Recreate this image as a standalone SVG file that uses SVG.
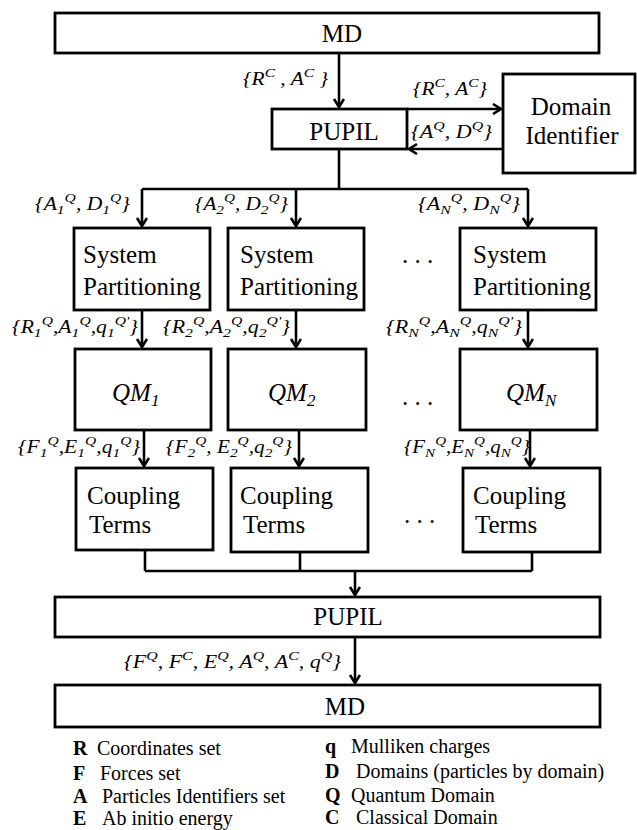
<svg xmlns="http://www.w3.org/2000/svg" width="637" height="830" viewBox="0 0 637 830">
<style>
.b{fill:#fff;stroke:#000;stroke-width:2.8}
.c{fill:none;stroke:#000;stroke-width:2.6}
.n{font-family:"Liberation Serif","Times New Roman",serif;font-size:25px;fill:#000}
.l{font-family:"Liberation Serif","Times New Roman",serif;font-size:18px;font-style:italic;fill:#000}
.s{font-size:13px}
.g{font-family:"Liberation Serif","Times New Roman",serif;font-size:20px;fill:#000}
.k{font-weight:bold}
</style>
<defs>
<marker id="ah" markerUnits="userSpaceOnUse" markerWidth="14" markerHeight="14" refX="10" refY="6" orient="auto">
<path d="M2,1 L10,6 L2,11" fill="none" stroke="#000" stroke-width="2.6"/>
</marker>
</defs>
<rect width="637" height="830" fill="#fff"/>

<g id="connectors">
<path class="c" d="M339,53 V107" marker-end="url(#ah)"/>
<path class="c" d="M407,109 H501" marker-end="url(#ah)"/>
<path class="c" d="M503,149 H409" marker-end="url(#ah)"/>
<path class="c" d="M339,149 V189 M142,189 H528"/>
<path class="c" d="M142,189 V226" marker-end="url(#ah)"/>
<path class="c" d="M296,189 V226" marker-end="url(#ah)"/>
<path class="c" d="M528,189 V226" marker-end="url(#ah)"/>
<path class="c" d="M142,310 V347" marker-end="url(#ah)"/>
<path class="c" d="M296,310 V347" marker-end="url(#ah)"/>
<path class="c" d="M528,310 V347" marker-end="url(#ah)"/>
<path class="c" d="M144,430 V466" marker-end="url(#ah)"/>
<path class="c" d="M299,430 V466" marker-end="url(#ah)"/>
<path class="c" d="M530,430 V466" marker-end="url(#ah)"/>
<path class="c" d="M145,550 V571 M300,552 V571 M532,552 V571 M145,571 H532"/>
<path class="c" d="M355,571 V595" marker-end="url(#ah)"/>
<path class="c" d="M355,637 V683" marker-end="url(#ah)"/>
</g>

<g id="labels">
<text class="l" x="243" y="85" textLength="85" lengthAdjust="spacingAndGlyphs">{R<tspan class="s" dy="-8">C</tspan><tspan dy="8"> , A</tspan><tspan class="s" dy="-8">C</tspan><tspan dy="8"> }</tspan></text>
<text class="l" x="413" y="95" textLength="74" lengthAdjust="spacingAndGlyphs">{R<tspan class="s" dy="-8">C</tspan><tspan dy="8">, A</tspan><tspan class="s" dy="-8">C</tspan><tspan dy="8">}</tspan></text>
<text class="l" x="411" y="138" textLength="81" lengthAdjust="spacingAndGlyphs">{A<tspan class="s" dy="-8">Q</tspan><tspan dy="8">, D</tspan><tspan class="s" dy="-8">Q</tspan><tspan dy="8">}</tspan></text>

<text class="l" x="35" y="210" textLength="95" lengthAdjust="spacingAndGlyphs">{A<tspan class="s" dy="4">1</tspan><tspan class="s" dy="-12">Q</tspan><tspan dy="8">, D</tspan><tspan class="s" dy="4">1</tspan><tspan class="s" dy="-12">Q</tspan><tspan dy="8">}</tspan></text>
<text class="l" x="195" y="210" textLength="93" lengthAdjust="spacingAndGlyphs">{A<tspan class="s" dy="4">2</tspan><tspan class="s" dy="-12">Q</tspan><tspan dy="8">, D</tspan><tspan class="s" dy="4">2</tspan><tspan class="s" dy="-12">Q</tspan><tspan dy="8">}</tspan></text>
<text class="l" x="418" y="210" textLength="102" lengthAdjust="spacingAndGlyphs">{A<tspan class="s" dy="4">N</tspan><tspan class="s" dy="-12">Q</tspan><tspan dy="8">, D</tspan><tspan class="s" dy="4">N</tspan><tspan class="s" dy="-12">Q</tspan><tspan dy="8">}</tspan></text>

<text class="l" x="12" y="333" textLength="126" lengthAdjust="spacingAndGlyphs">{R<tspan class="s" dy="4">1</tspan><tspan class="s" dy="-12">Q</tspan><tspan dy="8">,A</tspan><tspan class="s" dy="4">1</tspan><tspan class="s" dy="-12">Q</tspan><tspan dy="8">,q</tspan><tspan class="s" dy="4">1</tspan><tspan class="s" dy="-12">Q'</tspan><tspan dy="8">}</tspan></text>
<text class="l" x="163" y="333" textLength="127" lengthAdjust="spacingAndGlyphs">{R<tspan class="s" dy="4">2</tspan><tspan class="s" dy="-12">Q</tspan><tspan dy="8">,A</tspan><tspan class="s" dy="4">2</tspan><tspan class="s" dy="-12">Q</tspan><tspan dy="8">,q</tspan><tspan class="s" dy="4">2</tspan><tspan class="s" dy="-12">Q'</tspan><tspan dy="8">}</tspan></text>
<text class="l" x="386" y="333" textLength="136" lengthAdjust="spacingAndGlyphs">{R<tspan class="s" dy="4">N</tspan><tspan class="s" dy="-12">Q</tspan><tspan dy="8">,A</tspan><tspan class="s" dy="4">N</tspan><tspan class="s" dy="-12">Q</tspan><tspan dy="8">,q</tspan><tspan class="s" dy="4">N</tspan><tspan class="s" dy="-12">Q'</tspan><tspan dy="8">}</tspan></text>

<text class="l" x="18" y="453" textLength="122" lengthAdjust="spacingAndGlyphs">{F<tspan class="s" dy="4">1</tspan><tspan class="s" dy="-12">Q</tspan><tspan dy="8">,E</tspan><tspan class="s" dy="4">1</tspan><tspan class="s" dy="-12">Q</tspan><tspan dy="8">,q</tspan><tspan class="s" dy="4">1</tspan><tspan class="s" dy="-12">Q</tspan><tspan dy="8">}</tspan></text>
<text class="l" x="166" y="453" textLength="126" lengthAdjust="spacingAndGlyphs">{F<tspan class="s" dy="4">2</tspan><tspan class="s" dy="-12">Q</tspan><tspan dy="8">, E</tspan><tspan class="s" dy="4">2</tspan><tspan class="s" dy="-12">Q</tspan><tspan dy="8">,q</tspan><tspan class="s" dy="4">2</tspan><tspan class="s" dy="-12">Q</tspan><tspan dy="8">}</tspan></text>
<text class="l" x="404" y="453" textLength="126" lengthAdjust="spacingAndGlyphs">{F<tspan class="s" dy="4">N</tspan><tspan class="s" dy="-12">Q</tspan><tspan dy="8">,E</tspan><tspan class="s" dy="4">N</tspan><tspan class="s" dy="-12">Q</tspan><tspan dy="8">,q</tspan><tspan class="s" dy="4">N</tspan><tspan class="s" dy="-12">Q</tspan><tspan dy="8">}</tspan></text>

<text class="l" x="124" y="668" textLength="217" lengthAdjust="spacingAndGlyphs">{F<tspan class="s" dy="-8">Q</tspan><tspan dy="8">, F</tspan><tspan class="s" dy="-8">C</tspan><tspan dy="8">, E</tspan><tspan class="s" dy="-8">Q</tspan><tspan dy="8">, A</tspan><tspan class="s" dy="-8">Q</tspan><tspan dy="8">, A</tspan><tspan class="s" dy="-8">C</tspan><tspan dy="8">, q</tspan><tspan class="s" dy="-8">Q</tspan><tspan dy="8">}</tspan></text>
</g>

<g id="md-top">
<rect class="b" x="55" y="13" width="544" height="40"/>
<text class="n" x="342" y="42" text-anchor="middle">MD</text>
</g>
<g id="pupil-top">
<rect class="b" x="272" y="109" width="135" height="40"/>
<text class="n" x="344" y="140" text-anchor="middle">PUPIL</text>
</g>
<g id="domain-identifier">
<rect class="b" x="503" y="74" width="132" height="99"/>
<text class="n" x="571" y="115" text-anchor="middle">Domain</text>
<text class="n" x="572" y="144" text-anchor="middle">Identifier</text>
</g>

<g id="sp1">
<rect class="b" x="74" y="228" width="136" height="82"/>
<text class="n" x="83" y="263">System</text>
<text class="n" x="83" y="295">Partitioning</text>
</g>
<g id="sp2">
<rect class="b" x="228" y="228" width="136" height="82"/>
<text class="n" x="240" y="263">System</text>
<text class="n" x="240" y="295">Partitioning</text>
</g>
<g id="spN">
<rect class="b" x="460" y="228" width="136" height="82"/>
<text class="n" x="473" y="263">System</text>
<text class="n" x="473" y="295">Partitioning</text>
</g>

<g id="qm1">
<rect class="b" x="75" y="349" width="136" height="81"/>
<text class="n" x="112" y="401" font-style="italic">QM<tspan font-size="17" dy="5">1</tspan></text>
</g>
<g id="qm2">
<rect class="b" x="228" y="349" width="138" height="81"/>
<text class="n" x="268" y="401" font-style="italic">QM<tspan font-size="17" dy="5">2</tspan></text>
</g>
<g id="qmN">
<rect class="b" x="460" y="349" width="137" height="81"/>
<text class="n" x="506" y="401" font-style="italic">QM<tspan font-size="17" dy="5">N</tspan></text>
</g>

<g id="ct1">
<rect class="b" x="76" y="468" width="137" height="82"/>
<text class="n" x="87" y="504">Coupling</text>
<text class="n" x="89" y="533">Terms</text>
</g>
<g id="ct2">
<rect class="b" x="231" y="468" width="137" height="84"/>
<text class="n" x="240" y="504">Coupling</text>
<text class="n" x="243" y="533">Terms</text>
</g>
<g id="ctN">
<rect class="b" x="463" y="468" width="137" height="84"/>
<text class="n" x="473" y="504">Coupling</text>
<text class="n" x="475" y="533">Terms</text>
</g>

<g id="dots">
<text class="n" x="402" y="263">. . .</text>
<text class="n" x="402" y="405">. . .</text>
<text class="n" x="404" y="523">. . .</text>
</g>

<g id="pupil-bottom">
<rect class="b" x="55" y="597" width="545" height="40"/>
<text class="n" x="348" y="625" text-anchor="middle">PUPIL</text>
</g>
<g id="md-bottom">
<rect class="b" x="55" y="685" width="545" height="42"/>
<text class="n" x="345" y="715" text-anchor="middle">MD</text>
</g>

<g id="legend">
<text class="g" x="73" y="755"><tspan class="k">R</tspan><tspan x="97">Coordinates set</tspan></text>
<text class="g" x="73" y="780"><tspan class="k">F</tspan><tspan x="100">Forces set</tspan></text>
<text class="g" x="73" y="803"><tspan class="k">A</tspan><tspan x="102">Particles Identifiers set</tspan></text>
<text class="g" x="73" y="825"><tspan class="k">E</tspan><tspan x="102">Ab initio energy</tspan></text>
<text class="g" x="325" y="753"><tspan class="k">q</tspan><tspan x="351">Mulliken charges</tspan></text>
<text class="g" x="325" y="778"><tspan class="k">D</tspan><tspan x="356">Domains (particles by domain)</tspan></text>
<text class="g" x="325" y="802"><tspan class="k">Q</tspan><tspan x="351">Quantum Domain</tspan></text>
<text class="g" x="325" y="824"><tspan class="k">C</tspan><tspan x="356">Classical Domain</tspan></text>
</g>
</svg>
